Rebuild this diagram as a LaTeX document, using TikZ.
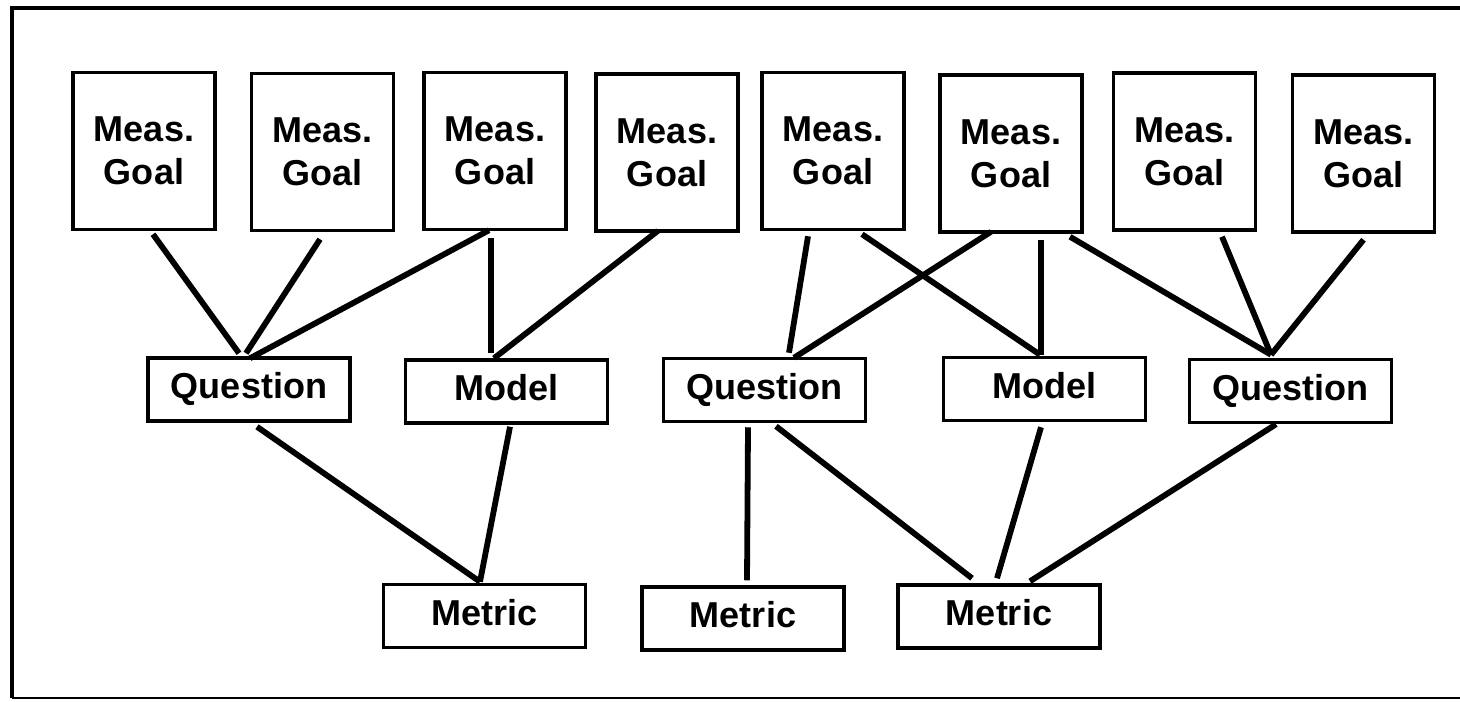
\documentclass[tikz,border=0pt]{standalone}
\usepackage{fontspec}
\setmainfont{Liberation Sans}
\usetikzlibrary{calc}

\begin{document}
\begin{tikzpicture}[x=0.02cm, y=-0.02cm,
    goalbox/.style = {draw, line width=2pt, minimum width=2.84cm, minimum height=3.14cm, align=center, font=\fontsize{20.5}{24.5}\selectfont\bfseries},
    midbox/.style = {draw, line width=2pt, minimum width=4.04cm, minimum height=1.26cm, text height=14.5pt, text depth=4pt, font=\fontsize{20.5}{24}\selectfont\bfseries},
    link/.style = {line width=3.3pt}]
        \useasboundingbox (0,0) rectangle (1460,701);
        \draw[line width=2.5pt] (1460,8) -- (12,8) -- (12,698);
        \draw[line width=1.6pt] (12,698) -- (1460,698);
        % measurement goals
        \node[goalbox] (goal1) at (144,151) {Meas.\\Goal};
        \node[goalbox] (goal2) at (322.5,152) {Meas.\\Goal};
        \node[goalbox] (goal3) at (495,151) {Meas.\\Goal};
        \node[goalbox] (goal4) at (667,152.5) {Meas.\\Goal};
        \node[goalbox] (goal5) at (833,151) {Meas.\\Goal};
        \node[goalbox] (goal6) at (1011,153.5) {Meas.\\Goal};
        \node[goalbox] (goal7) at (1184.5,151.5) {Meas.\\Goal};
        \node[goalbox] (goal8) at (1363.5,153.5) {Meas.\\Goal};
        % questions and models
        \node[midbox] (q1) at (249,389.5) {Question};
        \node[midbox] (m1) at (506.5,391.5) {Model};
        \node[midbox] (q2) at (764.5,390) {Question};
        \node[midbox] (m2) at (1044.5,389) {Model};
        \node[midbox] (q3) at (1290.5,391) {Question};
        % metrics
        \node[midbox] (metric1) at (484.5,616) {Metric};
        \node[midbox] (metric2) at (743,618.5) {Metric};
        \node[midbox] (metric3) at (999,616.5) {Metric};
        \draw[link] ($(goal1.south)+(9,3)$) -- ($(q1.north)+(-10,-3)$);
        \draw[link] ($(goal2.south)+(-2.5,7)$) -- ($(q1.north)+(-3,-3)$);
        \draw[link] ($(goal3.south)+(-6,-1)$) -- ($(q1.north)+(1,2)$);
        \draw[link] ($(goal3.south)+(-4,7)$) -- ($(m1.north)+(-15.5,-5)$);
        \draw[link] ($(goal4.south)+(-9,-2)$) -- ($(m1.north)+(-12.5,0)$);
        \draw[link] ($(goal5.south)+(-25,5)$) -- ($(q2.north)+(24.5,-4)$);
        \draw[link] ($(goal5.south)+(29,3)$) -- ($(m2.north)+(-4.5,-1)$);
        \draw[link] ($(goal6.south)+(-20,-2)$) -- ($(q2.north)+(29.5,1)$);
        \draw[link] ($(goal6.south)+(30,6)$) -- ($(m2.north)+(-3.5,-1)$);
        \draw[link] ($(goal6.south)+(59,3)$) -- ($(q3.north)+(-19.5,-3)$);
        \draw[link] ($(goal7.south)+(37.5,5)$) -- ($(q3.north)+(-19.5,-3)$);
        \draw[link] ($(goal8.south)+(0,6)$) -- ($(q3.north)+(-19.5,-3)$);
        \draw[link] ($(q1.south)+(8,4)$) -- ($(metric1.north)+(-4.5,-1)$);
        \draw[link] ($(m1.south)+(3.5,2)$) -- ($(metric1.north)+(-4.5,-1)$);
        \draw[link] ($(q2.south)+(-16.5,4)$) -- ($(metric2.north)+(4,-5)$);
        \draw[link] ($(q2.south)+(11.5,3)$) -- ($(metric3.north)+(-27,-5)$);
        \draw[link] ($(m2.south)+(-3.5,5)$) -- ($(metric3.north)+(-2,-5)$);
        \draw[link] ($(q3.south)+(-14.5,0)$) -- ($(metric3.north)+(31,-2)$);
    \end{tikzpicture}
\end{document}
